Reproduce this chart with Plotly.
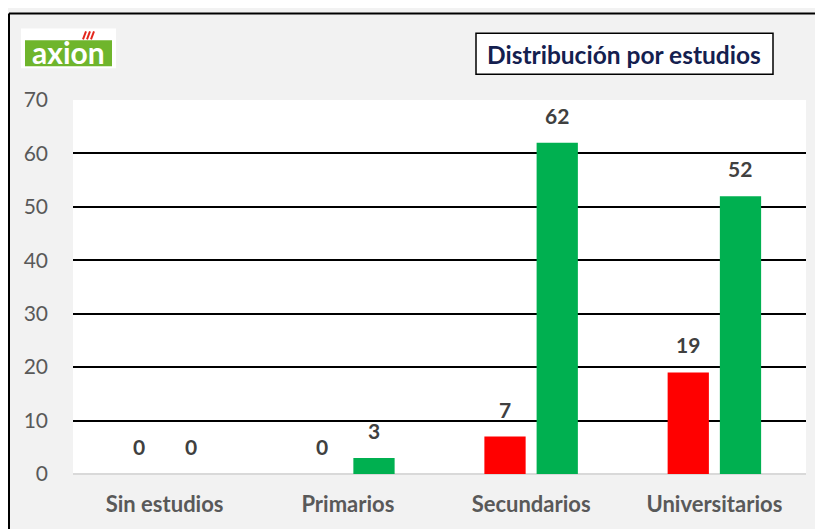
import plotly.graph_objects as go

categories = ["Sin estudios", "Primarios", "Secundarios", "Universitarios"]
serie_roja = [0, 0, 7, 19]
serie_verde = [0, 3, 62, 52]
y_ticks = [0, 10, 20, 30, 40, 50, 60, 70]

# the page adds an 8px body margin, so the figure is 8px smaller
W, H = 815, 521
L, R, T, B = 65, 17, 92, 53


def px_x(px):
    # page pixel column -> paper x
    return (px - 73) / (806 - 73)


def px_y(py):
    # page pixel row -> paper y
    return (476 - py) / (476 - 100)


fig = go.Figure()
fig.add_trace(
    go.Bar(
        x=categories,
        y=serie_roja,
        marker=dict(color="#ff0000", line=dict(width=0)),
        name="Rojo",
    )
)
fig.add_trace(
    go.Bar(
        x=categories,
        y=serie_verde,
        marker=dict(color="#00b050", line=dict(width=0)),
        name="Verde",
    )
)

shapes = [
    # outer frame: only the left and top sides are in the picture
    dict(type="line", xref="paper", yref="paper",
         x0=px_x(9), x1=px_x(9), y0=px_y(600), y1=px_y(13),
         line=dict(color="black", width=2), layer="above"),
    dict(type="line", xref="paper", yref="paper",
         x0=px_x(9), x1=px_x(900), y0=px_y(13), y1=px_y(13),
         line=dict(color="black", width=2), layer="above"),
    # title box
    dict(type="rect", xref="paper", yref="paper",
         x0=px_x(476), x1=px_x(773), y0=px_y(74), y1=px_y(33),
         line=dict(color="black", width=1.5), fillcolor="white"),
    # logo background
    dict(type="rect", xref="paper", yref="paper",
         x0=px_x(21), x1=px_x(116), y0=px_y(68), y1=px_y(28),
         line=dict(width=0), fillcolor="white"),
    # logo green box
    dict(type="rect", xref="paper", yref="paper",
         x0=px_x(25), x1=px_x(112), y0=px_y(66), y1=px_y(40),
         line=dict(width=0), fillcolor="#6fb52c"),
]
# little red marks of the logo
for i in range(3):
    shapes.append(
        dict(type="line", xref="paper", yref="paper",
             x0=px_x(83 + i * 4), x1=px_x(86 + i * 4), y0=px_y(39), y1=px_y(31),
             line=dict(color="#e3261c", width=2))
    )

annotations = [
    dict(text="<b>Distribución por estudios</b>", xref="paper", yref="paper",
         x=px_x(624), y=px_y(54), xanchor="center", yanchor="middle", showarrow=False,
         font=dict(family="Lato", size=24.5, color="#14204f")),
    dict(text="<b>axion</b>", xref="paper", yref="paper",
         x=px_x(68), y=px_y(52), xanchor="center", yanchor="middle", showarrow=False,
         font=dict(family="Lato", size=30, color="white")),
]

# data labels above each bar
for values, shift in [(serie_roja, -26), (serie_verde, 26)]:
    for cat, v in zip(categories, values):
        annotations.append(
            dict(text=f"<b>{v}</b>", x=cat, y=v, xref="x", yref="y",
                 xshift=shift, yshift=13, xanchor="center", yanchor="bottom",
                 showarrow=False,
                 font=dict(family="Lato", size=21, color="#404040"))
        )

fig.update_layout(
    width=W,
    height=H,
    margin=dict(l=L, r=R, t=T, b=B, pad=0),
    paper_bgcolor="#f2f2f2",
    plot_bgcolor="white",
    showlegend=False,
    barmode="group",
    bargap=0.43,
    bargroupgap=0.21,
    font=dict(family="Lato", color="#595959"),
    shapes=shapes,
    annotations=annotations,
    xaxis=dict(
        showgrid=False,
        showline=False,
        ticks="",
        ticklabelstandoff=15,
        tickfont=dict(family="Lato", size=22, color="#595959", weight="bold"),
    ),
    yaxis=dict(
        range=[0, 70],
        tickvals=y_ticks,
        showgrid=True,
        gridcolor="black",
        gridwidth=1.5,
        zeroline=True,
        zerolinecolor="#d9d9d9",
        zerolinewidth=2,
        showline=False,
        ticks="",
        ticklabelstandoff=24,
        tickfont=dict(family="Lato", size=21, color="#595959"),
    ),
)

fig.write_html("out.html")
